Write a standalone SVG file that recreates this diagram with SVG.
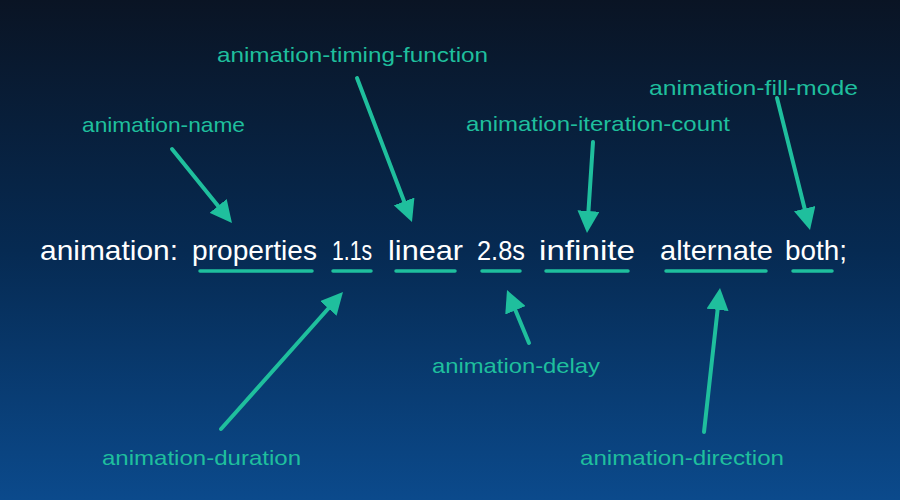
<svg xmlns="http://www.w3.org/2000/svg" width="900" height="500" viewBox="0 0 900 500">
  <defs>
    <linearGradient id="bg" x1="0" y1="0" x2="0" y2="1">
      <stop offset="0" stop-color="#0a1424"/>
      <stop offset="0.5" stop-color="#062a52"/>
      <stop offset="1" stop-color="#0b4a8c"/>
    </linearGradient>
    <marker id="head" viewBox="0 0 22 22" markerUnits="userSpaceOnUse" markerWidth="22" markerHeight="22" refX="10" refY="11" orient="auto">
      <path d="M0,0 L22,11 L0,22 Z" fill="#1fbf9d"/>
    </marker>
    <style>
      .lbl { font-family: "Liberation Sans", Arial, sans-serif; font-size: 21px; fill: #1fbf9d; }
      .code { font-family: "Liberation Sans", Arial, sans-serif; font-size: 28px; fill: #ffffff; }
      .arrow { stroke: #1fbf9d; stroke-width: 4; fill: none; stroke-linecap: round; marker-end: url(#head); }
      .ul { stroke: #1fbf9d; stroke-width: 3.5; stroke-linecap: round; }
    </style>
  </defs>
  <rect width="900" height="500" fill="url(#bg)"/>

  <g id="code">
    <text class="code" y="260" lengthAdjust="spacingAndGlyphs"><tspan x="40" textLength="138" lengthAdjust="spacingAndGlyphs">animation:</tspan> <tspan x="192" textLength="125" lengthAdjust="spacingAndGlyphs">properties</tspan> <tspan x="332" textLength="40" lengthAdjust="spacingAndGlyphs">1.1s</tspan> <tspan x="388" textLength="75" lengthAdjust="spacingAndGlyphs">linear</tspan> <tspan x="477" textLength="48" lengthAdjust="spacingAndGlyphs">2.8s</tspan> <tspan x="539" textLength="96" lengthAdjust="spacingAndGlyphs">infinite</tspan>  <tspan x="660" textLength="113" lengthAdjust="spacingAndGlyphs">alternate</tspan> <tspan x="785" textLength="62" lengthAdjust="spacingAndGlyphs">both;</tspan></text>
  </g>

  <g id="underlines">
    <line class="ul" x1="200" y1="271" x2="312" y2="271"/>
    <line class="ul" x1="333" y1="271" x2="371" y2="271"/>
    <line class="ul" x1="396" y1="271" x2="455" y2="271"/>
    <line class="ul" x1="482" y1="271" x2="520" y2="271"/>
    <line class="ul" x1="546" y1="271" x2="628" y2="271"/>
    <line class="ul" x1="666" y1="271" x2="766" y2="271"/>
    <line class="ul" x1="793" y1="271" x2="832" y2="271"/>
  </g>

  <g id="node-name"><text class="lbl" x="82" y="132" textLength="163" lengthAdjust="spacingAndGlyphs">animation-name</text></g>
  <g id="node-timing"><text class="lbl" x="217" y="62" textLength="271" lengthAdjust="spacingAndGlyphs">animation-timing-function</text></g>
  <g id="node-iteration"><text class="lbl" x="466" y="131" textLength="264" lengthAdjust="spacingAndGlyphs">animation-iteration-count</text></g>
  <g id="node-fill"><text class="lbl" x="649" y="95" textLength="209" lengthAdjust="spacingAndGlyphs">animation-fill-mode</text></g>
  <g id="node-delay"><text class="lbl" x="432" y="373" textLength="168" lengthAdjust="spacingAndGlyphs">animation-delay</text></g>
  <g id="node-duration"><text class="lbl" x="102" y="465" textLength="199" lengthAdjust="spacingAndGlyphs">animation-duration</text></g>
  <g id="node-direction"><text class="lbl" x="580" y="465" textLength="204" lengthAdjust="spacingAndGlyphs">animation-direction</text></g>

  <g id="connectors">
    <line class="arrow" x1="172" y1="149" x2="224.4" y2="213.7"/>
    <line class="arrow" x1="357" y1="78" x2="407.7" y2="210.8"/>
    <line class="arrow" x1="593" y1="142" x2="587.8" y2="221"/>
    <line class="arrow" x1="777" y1="98" x2="807.1" y2="218.4"/>
    <line class="arrow" x1="221" y1="429" x2="335" y2="301"/>
    <line class="arrow" x1="529" y1="343" x2="511.6" y2="301.1"/>
    <line class="arrow" x1="704" y1="432" x2="718.7" y2="299.9"/>
  </g>
</svg>
